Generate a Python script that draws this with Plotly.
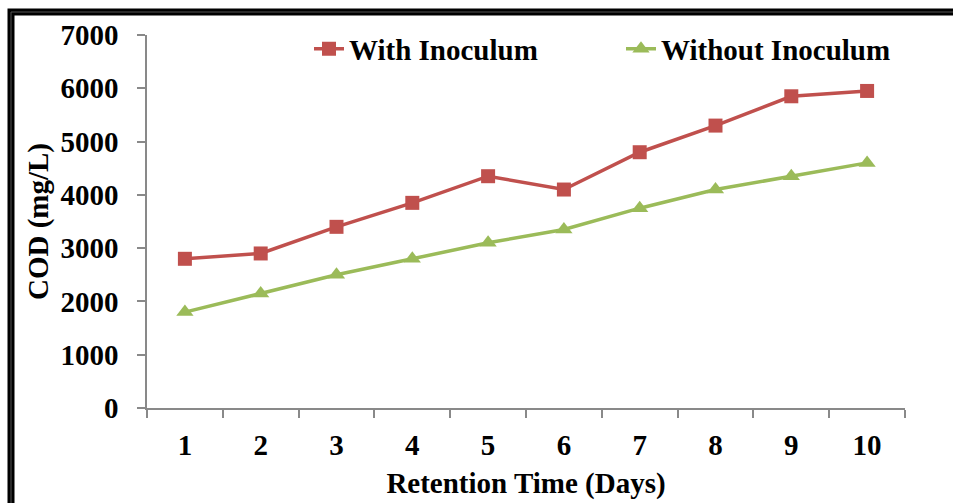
import plotly.graph_objects as go

days = ["1", "2", "3", "4", "5", "6", "7", "8", "9", "10"]
with_inoculum = [2800, 2900, 3400, 3850, 4350, 4100, 4800, 5300, 5850, 5950]
without_inoculum = [1800, 2150, 2500, 2800, 3100, 3350, 3750, 4100, 4350, 4600]

W, H = 953, 503
L, R, T, B = 147, 48, 35, 95
pw, ph = W - L - R, H - T - B

def px(x):
    return (x - L) / pw

def py(y):
    return (H - B - y) / ph

FONT = "Times New Roman, Liberation Serif, serif"
RED = "#C0504D"
GREEN = "#9BBB59"
AX = "#898989"
FS = 29

fig = go.Figure()
fig.add_trace(go.Scatter(
    x=days, y=with_inoculum, mode="lines+markers", name="With Inoculum",
    line=dict(color=RED, width=3.5),
    marker=dict(symbol="square", size=14, color=RED),
    legend="legend", showlegend=True,
))
fig.add_trace(go.Scatter(
    x=days, y=without_inoculum, mode="lines+markers", name="Without Inoculum",
    line=dict(color=GREEN, width=3.5),
    marker=dict(symbol="triangle-up", size=15, color=GREEN),
    legend="legend2", showlegend=True,
))

legfont = dict(family=FONT, size=FS, color="black", weight="bold")
fig.update_layout(
    width=W, height=H, showlegend=True,
    margin=dict(l=L, r=R, t=T, b=B, autoexpand=False),
    paper_bgcolor="white", plot_bgcolor="white",
    font=dict(family=FONT, size=FS, color="black", weight="bold"),
    legend=dict(x=px(309), y=py(49), xanchor="left", yanchor="middle",
                orientation="h", font=legfont, bgcolor="rgba(0,0,0,0)",
                itemwidth=30, visible=True),
    legend2=dict(x=px(621), y=py(49), xanchor="left", yanchor="middle",
                 orientation="h", font=legfont, bgcolor="rgba(0,0,0,0)",
                 itemwidth=30, visible=True),
    xaxis=dict(
        type="category", range=[-0.5, 9.5], tickson="boundaries",
        ticks="outside", ticklen=8, tickwidth=1.5, tickcolor=AX,
        showline=True, linecolor=AX, linewidth=1.5, showgrid=False, zeroline=False,
        tickfont=dict(family=FONT, size=FS, color="black", weight="bold"),
        ticklabelstandoff=10,
        title=dict(text="Retention Time (Days)", standoff=13,
                   font=dict(family=FONT, size=FS, color="black", weight="bold")),
        automargin=False,
    ),
    yaxis=dict(
        range=[0, 7000], dtick=1000, tick0=0,
        ticks="outside", ticklen=8, tickwidth=1.5, tickcolor=AX,
        showline=True, linecolor=AX, linewidth=1.5, showgrid=False, zeroline=False,
        tickfont=dict(family=FONT, size=FS, color="black", weight="bold"),
        ticklabelstandoff=13,
        title=dict(text="COD (mg/L)", standoff=3,
                   font=dict(family=FONT, size=FS, color="black", weight="bold")),
        automargin=False,
    ),
    shapes=[
        dict(type="rect", xref="paper", yref="paper",
             x0=px(11), x1=px(W + 20), y0=py(12), y1=py(H + 20),
             line=dict(color="black", width=7), fillcolor="rgba(0,0,0,0)", layer="above"),
        dict(type="rect", xref="paper", yref="paper",
             x0=px(11), x1=px(W + 20), y0=py(12), y1=py(H + 20),
             line=dict(color="#555555", width=1), fillcolor="rgba(0,0,0,0)", layer="above"),
    ],
)

fig.write_html("out.html")
